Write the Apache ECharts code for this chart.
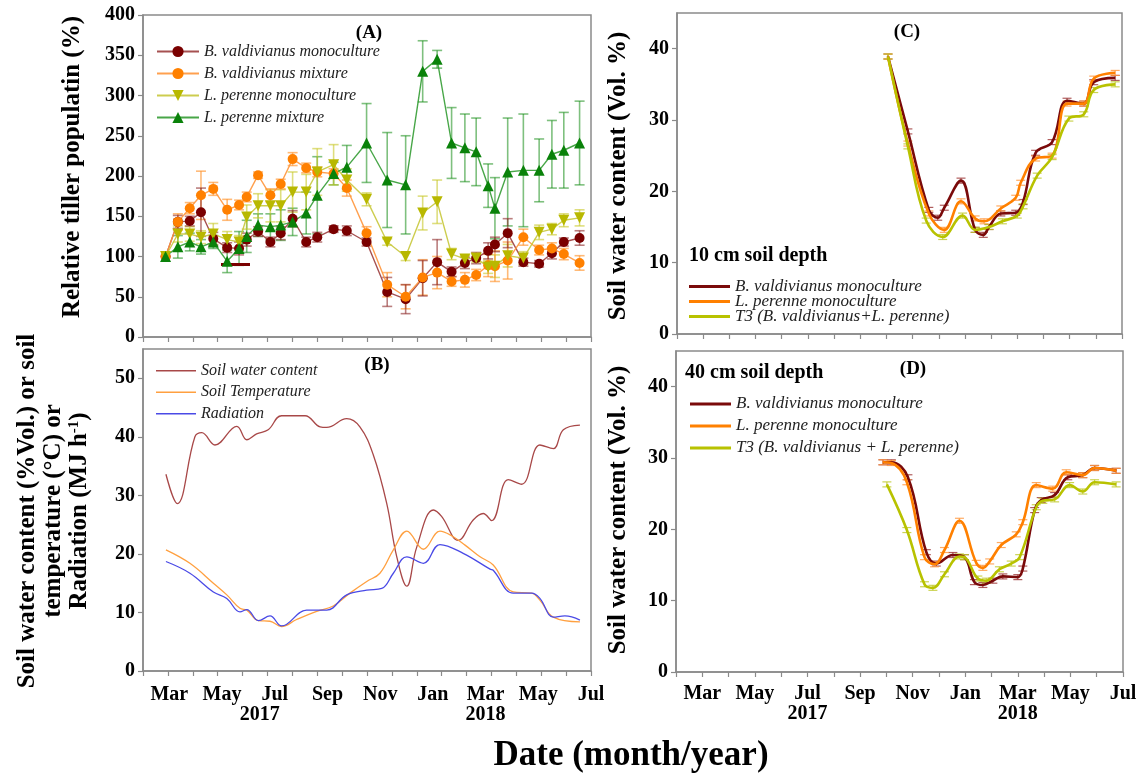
<!DOCTYPE html>
<html>
<head>
<meta charset="utf-8">
<script src="https://cdn.jsdelivr.net/npm/echarts@6/dist/echarts.min.js"></script>
<style>
html,body{margin:0;padding:0;background:#fff}
#chart{width:1142px;height:776px}
</style>
</head>
<body>
<div id="chart"></div>
<script>
// ---------- (A) relative tiller population, % of first count ----------
const tillerDates = ['2017-02-25','2017-03-11','2017-03-25','2017-04-07','2017-04-21','2017-05-07','2017-05-21','2017-05-30',
  '2017-06-12','2017-06-26','2017-07-08','2017-07-22','2017-08-07','2017-08-20','2017-09-08','2017-09-23','2017-10-16',
  '2017-11-09','2017-11-30','2017-12-20','2018-01-06','2018-01-23','2018-02-07','2018-02-19','2018-03-04','2018-03-12',
  '2018-03-27','2018-04-14','2018-05-02','2018-05-17','2018-05-31','2018-06-18'];
const bvMono    = [100,143,144,155,122,111,110,121,131,118,129,147,118,124,134,132,118,56,47,73,93,81,92,98,107,115,129,93,91,104,118,123];
const bvMonoErr = [0,8,6,30,8,6,8,8,6,6,8,10,6,6,4,6,5,18,18,22,28,6,7,7,10,9,18,5,4,7,5,9];
const bvMix     = [100,143,160,176,184,158,164,174,201,176,190,221,210,205,203,185,129,65,50,74,80,69,71,77,89,88,95,124,108,110,103,92];
const bvMixErr  = [0,10,7,30,8,13,6,6,4,8,6,8,6,6,6,10,8,15,15,22,20,6,9,7,14,19,23,10,6,7,7,9];
const lpMono    = [100,128,128,124,128,121,118,149,163,163,163,180,180,205,214,195,171,118,100,154,168,103,97,98,87,88,101,98,130,134,145,148];
const lpMonoErr = [0,10,9,8,13,10,8,15,15,20,20,25,22,29,25,14,8,4,5,21,27,7,4,5,8,14,14,8,9,7,8,10];
const lpMix     = [100,112,118,112,118,94,110,125,139,137,139,143,154,176,203,211,241,195,189,330,345,241,235,230,188,160,205,207,207,227,232,241];
const lpMixErr  = [0,14,11,9,8,14,21,20,14,16,19,17,26,48,14,27,49,59,61,38,11,44,42,42,27,38,67,70,39,42,47,52];
// stray thick segment in panel A (month position, value)
const bvMonoBarMonths = [3.96, 5.06];
const bvMonoBarValue = 90;

// ---------- (B) soil water content, soil temperature, radiation ----------
const swcMonth = [1.87,2.30,2.97,3.23,3.73,4.56,4.94,5.31,5.75,6.26,7.15,7.72,7.97,8.73,9.23,9.74,10.25,10.63,11.01,11.39,12.02,12.33,12.96,13.53,13.91,14.23,14.86,15.37,16.06,16.57,16.95,17.58];
const swcValue = [33.6,28.6,40.0,40.7,38.6,41.8,39.5,40.5,41.2,43.6,43.6,41.7,41.6,43.1,41.7,36.9,28.6,19.5,14.5,21.2,27.5,26.4,22.3,25.8,26.9,25.7,32.7,31.9,38.6,38.0,41.2,42.0];
const tempMonth = [1.87,2.78,3.67,4.18,4.68,4.94,5.38,5.82,6.26,6.83,7.59,8.22,8.85,9.49,9.99,10.50,11.01,11.64,12.27,12.71,13.22,13.79,14.29,15.05,15.75,16.06,16.57,17.58];
const tempValue = [20.7,18.4,15.0,13.0,10.7,10.4,8.6,8.5,7.6,8.8,10.2,11.1,13.3,15.3,16.7,20.7,23.9,20.8,23.9,23.1,21.5,19.5,18.1,13.5,13.3,12.1,9.2,8.4];
const radMonth = [1.87,2.78,3.67,4.18,4.68,4.94,5.38,5.82,6.26,7.21,7.97,8.73,9.49,10.06,10.50,11.01,11.64,12.27,13.15,14.17,14.29,15.05,15.75,16.06,16.57,17.01,17.58];
const radValue = [18.7,16.7,13.5,12.4,10.1,10.5,8.6,9.4,7.7,10.4,10.4,13.0,13.8,14.1,16.7,19.5,18.4,21.6,20.1,17.4,17.2,13.3,13.3,12.4,9.2,9.4,8.7];

// ---------- (C) soil water content at 10 cm ----------
const c10BvMonth = [9.06,9.82,10.62,10.96,11.21,11.85,12.39,12.70,12.92,13.37,13.94,14.22,14.70,15.33,15.90,16.54,16.92,17.74];
const c10Bv      = [38.9,28.4,17.4,16.3,17.7,21.5,14.6,13.9,15.0,16.9,17.0,18.5,25.4,26.9,32.7,32.3,35.3,35.9];
const c10LpMonth = [9.06,9.82,10.62,11.21,11.85,12.39,12.73,13.37,13.94,14.13,14.70,15.33,15.90,16.54,16.92,17.74];
const c10Lp      = [38.9,26.7,16.9,14.6,18.6,16.2,15.8,17.6,19.1,21.2,24.6,25.0,32.3,32.3,35.8,36.6];
const c10T3Month = [9.06,9.82,10.52,11.15,11.91,12.39,12.92,13.43,14.00,14.22,14.76,15.33,15.97,16.54,16.92,17.74];
const c10T3      = [38.9,26.3,15.9,13.6,16.6,14.6,15.0,15.8,16.6,17.9,22.2,24.8,30.2,30.8,34.2,35.0];

// ---------- (D) soil water content at 40 cm ----------
const d40BvMonth = [8.87,9.19,9.82,10.52,10.90,11.53,11.97,12.35,12.67,13.05,13.43,14.00,14.19,14.64,14.89,15.40,15.90,16.47,16.92,17.74];
const d40Bv      = [29.4,29.4,27.3,16.8,15.2,16.4,16.1,12.6,12.2,12.8,13.4,13.3,14.5,22.7,24.1,24.8,27.3,27.6,28.6,28.2];
const d40LpMonth = [8.87,9.19,9.78,10.45,10.83,11.21,11.78,12.42,12.67,12.93,13.37,13.94,14.19,14.70,15.33,15.84,16.47,16.92,17.74];
const d40Lp      = [29.4,29.3,26.6,16.1,15.1,17.1,21.2,15.3,14.6,15.5,17.8,19.3,21.0,26.2,25.7,28.0,27.6,28.6,28.2];
const d40T3Month = [9.02,9.78,10.45,10.77,11.21,11.78,11.97,12.48,12.80,13.30,13.75,14.07,14.70,14.95,15.40,15.97,16.47,16.92,17.74];
const d40T3      = [26.3,19.9,12.3,11.8,13.7,16.2,16.1,13.1,12.8,14.4,15.2,16.1,23.1,24.0,24.2,26.2,25.3,26.6,26.3];
const swcSE = 0.35;   // half-height of the small error caps in C and D

// ---------- axis tick labels (month position 0 = Jan 2017) ----------
const monthTicks  = [2,4,6,8,10,12,14,16,18];
const monthLabels = ['Mar','May','Jul','Sep','Nov','Jan','Mar','May','Jul'];
const yearTicks   = [6,14];
const yearLabels  = ['2017','2018'];
const tillerTicks = [0,50,100,150,200,250,300,350,400];
const climateTicks = [0,10,20,30,40,50];
const swcTicks = [0,10,20,30,40];

const FONT = 'Liberation Serif';
const AXIS_GRAY = '#8a8a8a';

// date string -> fractional month position
function monthPos(s) {
  const [y, m, d] = s.split('-').map(Number);
  const dim = new Date(y, m, 0).getDate();
  return (y - 2017) * 12 + (m - 1) + (d - 1) / dim;
}
const tillerX = tillerDates.map(monthPos);
const pairs = (xs, ys) => xs.map((x, i) => [x, ys[i]]);

function errBars(xs, ys, es, color, xi, yi, cap, width) {
  const data = [];
  xs.forEach((x, i) => { const e = Array.isArray(es) ? es[i] : es; if (e > 0) data.push([x, ys[i] - e, ys[i] + e]); });
  return {
    type: 'custom', xAxisIndex: xi, yAxisIndex: yi, silent: true, z: 2,
    data, encode: { x: 0, y: [1, 2] },
    renderItem(params, api) {
      const lo = api.coord([api.value(0), api.value(1)]);
      const hi = api.coord([api.value(0), api.value(2)]);
      const st = { stroke: color, lineWidth: width, fill: null };
      return { type: 'group', children: [
        { type: 'line', shape: { x1: lo[0], y1: lo[1], x2: hi[0], y2: hi[1] }, style: st },
        { type: 'line', shape: { x1: lo[0] - cap, y1: lo[1], x2: lo[0] + cap, y2: lo[1] }, style: st },
        { type: 'line', shape: { x1: hi[0] - cap, y1: hi[1], x2: hi[0] + cap, y2: hi[1] }, style: st }
      ]};
    }
  };
}

function markerSeries(name, ys, symbol, rotate, color, lineColor) {
  return {
    type: 'line', name, xAxisIndex: 0, yAxisIndex: 0, z: 4,
    data: pairs(tillerX, ys), symbol, symbolRotate: rotate, symbolSize: symbol === 'circle' ? 10 : 11,
    itemStyle: { color }, lineStyle: { color: lineColor, width: 1.4 }
  };
}

function smoothSeries(name, xs, ys, color, xi, yi, width) {
  return {
    type: 'line', name, xAxisIndex: xi, yAxisIndex: yi, z: 4, smooth: 0.4,
    symbol: 'none', data: pairs(xs, ys),
    itemStyle: { color }, lineStyle: { color, width }
  };
}

const monthFmt = (withYear, yearShift) => v => {
  const k = monthTicks.indexOf(v);
  if (k < 0) return '';
  const y = yearTicks.indexOf(v);
  if (withYear && y >= 0) {
    const shift = yearShift[y];
    return '{m|' + monthLabels[k] + '}\n{y' + (shift ? 's' : '') + '|' + yearLabels[y] + '}';
  }
  return '{m|' + monthLabels[k] + '}';
};
const tickRich = {
  m: { fontFamily: FONT, fontWeight: 'bold', fontSize: 20, color: '#000', lineHeight: 20 },
  y: { fontFamily: FONT, fontWeight: 'bold', fontSize: 20, color: '#000', lineHeight: 20 },
  ys: { fontFamily: FONT, fontWeight: 'bold', fontSize: 20, color: '#000', lineHeight: 20, padding: [0, 30, 0, 0] }
};

const gridBox = { show: true, borderColor: AXIS_GRAY, borderWidth: 1.5, backgroundColor: 'transparent' };
const axisLineGray = { show: true, lineStyle: { color: AXIS_GRAY, width: 1.5 } };
const tickGray = { show: true, length: 5, lineStyle: { color: AXIS_GRAY, width: 1.2 } };
const yLabelStyle = { fontFamily: FONT, fontWeight: 'bold', fontSize: 20, color: '#000', margin: 8 };

function xDataAxis(grid, labels) {
  return {
    type: 'value', gridIndex: grid, position: 'bottom', min: 1, max: 18, interval: 1,
    axisLine: axisLineGray, splitLine: { show: false },
    axisTick: labels === 'ticks' ? tickGray : { show: false },
    axisLabel: labels && labels !== 'ticks' ? labels : { show: false }
  };
}
function xTickAxis(grid) {
  return {
    type: 'value', gridIndex: grid, position: 'bottom', min: 0, max: 18, interval: 1,
    axisLine: { show: false }, splitLine: { show: false },
    axisTick: tickGray, axisLabel: { show: false }
  };
}
function yAxis(grid, max, ticks) {
  return {
    type: 'value', gridIndex: grid, min: 0, max,
    axisLine: axisLineGray, splitLine: { show: false },
    axisTick: Object.assign({ customValues: ticks }, tickGray),
    axisLabel: Object.assign({ customValues: ticks }, yLabelStyle)
  };
}

const legendText = { fontFamily: FONT, fontStyle: 'italic', fontSize: 16, color: '#222' };
const legendNames = {
  c1: 'B. valdivianus monoculture', c2: 'L. perenne monoculture', c3: 'T3 (B. valdivianus+L. perenne)',
  d1: 'B. valdivianus monoculture', d2: 'L. perenne monoculture', d3: 'T3 (B. valdivianus + L. perenne)'
};
const legendFmt = n => legendNames[n] || n;

const C_RED = '#7a0a0a', C_ORANGE = '#ff8000', C_YG = '#b8c200';
const titleFont = 'bold 25px "Liberation Serif"';

const option = {
  animation: false,
  backgroundColor: '#fff',
  grid: [
    Object.assign({ left: 143, top: 15, width: 448, height: 322 }, gridBox),
    Object.assign({ left: 143, top: 349, width: 448, height: 322 }, gridBox),
    Object.assign({ left: 677, top: 13, width: 445, height: 321 }, gridBox),
    Object.assign({ left: 676, top: 351, width: 447, height: 321 }, gridBox)
  ],
  xAxis: [
    xDataAxis(0, null),
    xTickAxis(0),
    xDataAxis(1, { interval: 1, formatter: monthFmt(true, [1, 0]), rich: tickRich, margin: 14, hideOverlap: false }),
    xTickAxis(1),
    xDataAxis(2, 'ticks'),
    Object.assign(xDataAxis(3, { interval: 1, formatter: monthFmt(true, [0, 0]), rich: tickRich, margin: 12, hideOverlap: false }), { axisTick: tickGray })
  ],
  yAxis: [
    yAxis(0, 400, tillerTicks),
    yAxis(1, 55, climateTicks),
    yAxis(2, 45, swcTicks),
    yAxis(3, 45, swcTicks)
  ],
  legend: [
    { orient: 'vertical', left: 151, top: 38, itemGap: 5, itemWidth: 42, itemHeight: 14,
      textStyle: Object.assign({ lineHeight: 17 }, legendText),
      data: ['B. valdivianus monoculture', 'B. valdivianus mixture', 'L. perenne monoculture', 'L. perenne mixture'] },
    { orient: 'vertical', left: 151, top: 357, itemGap: 4, itemWidth: 40, itemHeight: 1.5, icon: 'rect',
      textStyle: Object.assign({ lineHeight: 17.5 }, legendText),
      data: ['Soil water content', 'Soil Temperature', 'Radiation'] },
    { orient: 'vertical', left: 684, top: 273, itemGap: -2, itemWidth: 41, itemHeight: 3, icon: 'rect',
      formatter: legendFmt, textStyle: Object.assign({}, legendText, { fontSize: 17, lineHeight: 15 }),
      data: ['c1', 'c2', 'c3'] },
    { orient: 'vertical', left: 685, top: 390, itemGap: 4, itemWidth: 41, itemHeight: 3, icon: 'rect',
      formatter: legendFmt, textStyle: Object.assign({}, legendText, { fontSize: 17, lineHeight: 18 }),
      data: ['d1', 'd2', 'd3'] }
  ],
  series: [
    // (A) error bars
    errBars(tillerX, lpMix, lpMixErr, 'rgba(20,140,20,0.55)', 0, 0, 5, 1.6),
    errBars(tillerX, lpMono, lpMonoErr, 'rgba(200,200,40,0.6)', 0, 0, 5, 1.6),
    errBars(tillerX, bvMix, bvMixErr, 'rgba(255,140,30,0.6)', 0, 0, 5, 1.6),
    errBars(tillerX, bvMono, bvMonoErr, 'rgba(140,40,40,0.6)', 0, 0, 5, 1.6),
    {
      type: 'line', xAxisIndex: 0, yAxisIndex: 0, z: 3, symbol: 'none', silent: true,
      data: bvMonoBarMonths.map(m => [m, bvMonoBarValue]),
      lineStyle: { color: '#7a0000', width: 3 }
    },
    markerSeries('B. valdivianus monoculture', bvMono, 'circle', 0, '#7a0000', 'rgba(150,50,50,0.85)'),
    markerSeries('B. valdivianus mixture', bvMix, 'circle', 0, '#ff8000', 'rgba(255,150,60,0.9)'),
    markerSeries('L. perenne monoculture', lpMono, 'triangle', 180, '#b8b800', 'rgba(200,200,60,0.9)'),
    markerSeries('L. perenne mixture', lpMix, 'triangle', 0, '#0a820a', 'rgba(40,150,40,0.85)'),
    // (B)
    smoothSeries('Soil water content', swcMonth, swcValue, '#a84848', 2, 1, 1.3),
    smoothSeries('Soil Temperature', tempMonth, tempValue, '#ffa040', 2, 1, 1.3),
    smoothSeries('Radiation', radMonth, radValue, '#4a4ae6', 2, 1, 1.3),
    // (C)
    errBars(c10BvMonth, c10Bv, swcSE, 'rgba(150,40,40,0.75)', 4, 2, 4.5, 1.2),
    errBars(c10LpMonth, c10Lp, swcSE, 'rgba(255,150,60,0.8)', 4, 2, 4.5, 1.2),
    errBars(c10T3Month, c10T3, swcSE, 'rgba(190,200,40,0.8)', 4, 2, 4.5, 1.2),
    smoothSeries('c1', c10BvMonth, c10Bv, C_RED, 4, 2, 2.6),
    smoothSeries('c2', c10LpMonth, c10Lp, C_ORANGE, 4, 2, 2.6),
    smoothSeries('c3', c10T3Month, c10T3, C_YG, 4, 2, 2.6),
    // (D)
    errBars(d40BvMonth, d40Bv, swcSE, 'rgba(150,40,40,0.75)', 5, 3, 4.5, 1.2),
    errBars(d40LpMonth, d40Lp, swcSE, 'rgba(255,150,60,0.8)', 5, 3, 4.5, 1.2),
    errBars(d40T3Month, d40T3, swcSE, 'rgba(190,200,40,0.8)', 5, 3, 4.5, 1.2),
    smoothSeries('d1', d40BvMonth, d40Bv, C_RED, 5, 3, 2.6),
    smoothSeries('d2', d40LpMonth, d40Lp, C_ORANGE, 5, 3, 2.6),
    smoothSeries('d3', d40T3Month, d40T3, C_YG, 5, 3, 2.6)
  ],
  graphic: [
    { type: 'text', x: 73, y: 167, rotation: Math.PI / 2,
      style: { text: 'Relative tiller populatin (%)', font: titleFont, fill: '#000', align: 'center', verticalAlign: 'middle' } },
    { type: 'text', x: 54, y: 511, rotation: Math.PI / 2,
      style: { text: 'Soil water content (%Vol.) or soil\ntemperature (\u00B0C) or\n{n|Radiation (MJ h}{s|-1}{n|)}',
        font: titleFont, fill: '#000', align: 'center', verticalAlign: 'middle', lineHeight: 26,
        rich: { n: { fontFamily: FONT, fontWeight: 'bold', fontSize: 25, lineHeight: 26 },
                s: { fontFamily: FONT, fontWeight: 'bold', fontSize: 15, verticalAlign: 'top', lineHeight: 26 } } } },
    { type: 'text', x: 619, y: 176, rotation: Math.PI / 2,
      style: { text: 'Soil water content (Vol. %)', font: titleFont, fill: '#000', align: 'center', verticalAlign: 'middle' } },
    { type: 'text', x: 619, y: 510, rotation: Math.PI / 2,
      style: { text: 'Soil water content (Vol. %)', font: titleFont, fill: '#000', align: 'center', verticalAlign: 'middle' } },
    { type: 'text', x: 631, y: 756,
      style: { text: 'Date (month/year)', font: 'bold 35px "Liberation Serif"', fill: '#000', align: 'center', verticalAlign: 'middle' } },
    { type: 'text', x: 369, y: 33, style: { text: '(A)', font: 'bold 19px "Liberation Serif"', fill: '#000', align: 'center', verticalAlign: 'middle' } },
    { type: 'text', x: 377, y: 365, style: { text: '(B)', font: 'bold 19px "Liberation Serif"', fill: '#000', align: 'center', verticalAlign: 'middle' } },
    { type: 'text', x: 907, y: 32, style: { text: '(C)', font: 'bold 19px "Liberation Serif"', fill: '#000', align: 'center', verticalAlign: 'middle' } },
    { type: 'text', x: 913, y: 369, style: { text: '(D)', font: 'bold 19px "Liberation Serif"', fill: '#000', align: 'center', verticalAlign: 'middle' } },
    { type: 'text', x: 689, y: 256, style: { text: '10 cm soil depth', font: 'bold 20px "Liberation Serif"', fill: '#000', align: 'left', verticalAlign: 'middle' } },
    { type: 'text', x: 685, y: 373, style: { text: '40 cm soil depth', font: 'bold 20px "Liberation Serif"', fill: '#000', align: 'left', verticalAlign: 'middle' } }
  ]
};

const chart = echarts.init(document.getElementById('chart'), null, { renderer: 'canvas' });
chart.setOption(option);
</script>
</body>
</html>
